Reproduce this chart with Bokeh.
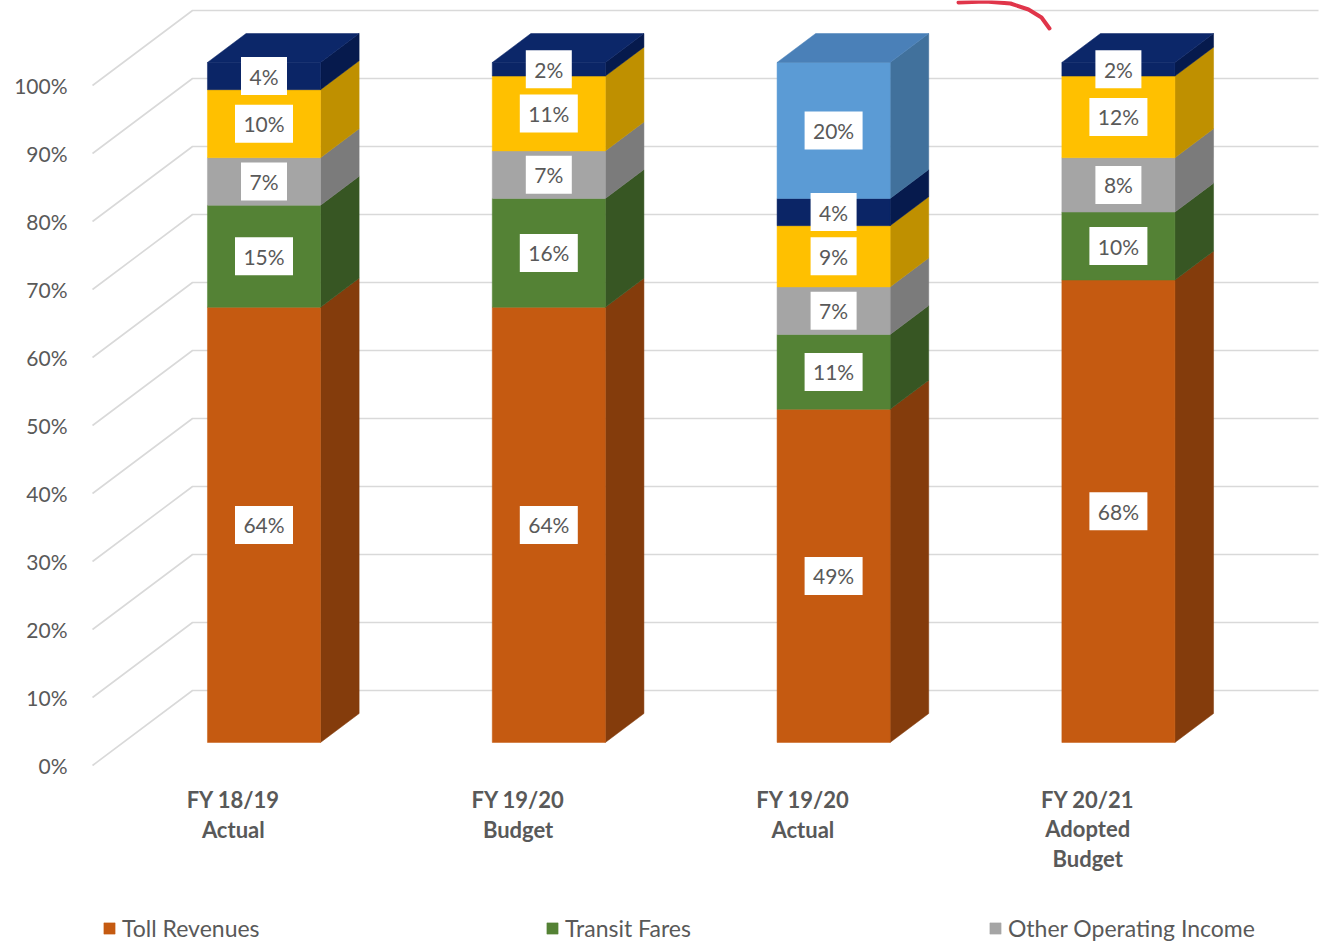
from bokeh.plotting import figure
from bokeh.models import Range1d, FixedTicker, PrintfTickFormatter, Legend, LegendItem
from bokeh.core.properties import value
from bokeh.embed import file_html
from bokeh.resources import INLINE

# ---------------- data ----------------
categories = ["FY 18/19\nActual", "FY 19/20\nBudget", "FY 19/20\nActual", "FY 20/21\nAdopted\nBudget"]
series_names = ["Toll Revenues", "Transit Fares", "Other Operating Income",
                "Other Revenue", "Investment Income", "Federal Relief Funds"]
toll_revenues = [64, 64, 49, 68]
transit_fares = [15, 16, 11, 10]
other_operating = [7, 7, 7, 8]
other_revenue = [10, 11, 9, 12]
investment_income = [4, 2, 4, 2]
federal_relief = [0, 0, 20, 0]
y_ticks = [0, 10, 20, 30, 40, 50, 60, 70, 80, 90, 100]

series_values = [toll_revenues, transit_fares, other_operating,
                 other_revenue, investment_income, federal_relief]

front_colors = ["#C55A11", "#548235", "#A5A5A5", "#FFC000", "#0B2566", "#5B9BD5"]
side_colors = ["#843C0C", "#375623", "#7B7B7B", "#BF9000", "#061A4D", "#41719C"]
top_colors = ["#A84C0E", "#46702C", "#8F8F8F", "#D9A300", "#0C2769", "#4A80B8"]

# ---------------- layout / projection ----------------
W, H = 1321, 942
FRAME_LEFT = 75
PX_PER_CAT = 284.8
CAT0_PX = 232.8
PX_PER_PCT = 6.8
ZERO_PX = 765.0

DEPTH_X = 100.0 / PX_PER_CAT      # full depth shift in category units
DEPTH_Y = 75.0 / PX_PER_PCT       # full depth shift in percent units
D_FRONT, D_BACK = 0.307, 0.693     # bar depth inside the box
HALF_W = 0.1985                    # half bar width (category units)
WALL_X = (92 - CAT0_PX) / PX_PER_CAT
WALL_RIGHT = (1318 - CAT0_PX) / PX_PER_CAT


def px_to_data(px, py):
    return (px - CAT0_PX) / PX_PER_CAT, (ZERO_PX - py) / PX_PER_PCT


def proj(x, v, d):
    return x + d * DEPTH_X, v + d * DEPTH_Y


p = figure(width=W, height=H,
           x_range=Range1d((FRAME_LEFT - CAT0_PX) / PX_PER_CAT, (W - CAT0_PX) / PX_PER_CAT),
           y_range=Range1d((ZERO_PX - H) / PX_PER_PCT, ZERO_PX / PX_PER_PCT),
           output_backend="svg", toolbar_location=None,
           x_axis_location=None, y_axis_location="left",
           min_border_left=FRAME_LEFT, min_border_right=0, min_border_top=0, min_border_bottom=0)
p.outline_line_color = None
p.background_fill_color = "white"
p.border_fill_color = "white"
p.grid.visible = False

ax = p.yaxis[0]
ax.ticker = FixedTicker(ticks=y_ticks)
ax.formatter = PrintfTickFormatter(format="%d%%")
ax.axis_line_color = None
ax.major_tick_line_color = None
ax.minor_tick_line_color = None
ax.major_tick_out = 0
ax.major_label_standoff = 8
ax.major_label_text_font = "Lato"
ax.major_label_text_font_size = "21px"
ax.major_label_text_color = "#595959"

# ---------------- 3D gridlines (side wall + back wall) ----------------
gx, gy = [], []
for t in y_ticks:
    x0, y0 = proj(WALL_X, t, 0)
    x1, y1 = proj(WALL_X, t, 1)
    gx.append([x0, x1, WALL_RIGHT])
    gy.append([y0, y1, y1])
p.multi_line(gx, gy, line_color="#D9D9D9", line_width=1.6)

# ---------------- bars ----------------
front_renderers = []
label_x, label_y, label_t, label_w = [], [], [], []
n_cat = len(categories)
bottoms = [0.0] * n_cat
tops_idx = [max(i for i, s in enumerate(series_values) if s[c] > 0) for c in range(n_cat)]

for s_idx, vals in enumerate(series_values):
    fxs, fys, sxs, sys_, txs, tys = [], [], [], [], [], []
    for c in range(n_cat):
        v = vals[c]
        if v <= 0:
            continue
        v0, v1 = bottoms[c], bottoms[c] + v
        xl, xr = c - HALF_W, c + HALF_W
        # front face
        a = proj(xl, v0, D_FRONT); b = proj(xr, v0, D_FRONT)
        cc = proj(xr, v1, D_FRONT); d = proj(xl, v1, D_FRONT)
        fxs.append([a[0], b[0], cc[0], d[0]]); fys.append([a[1], b[1], cc[1], d[1]])
        # right side face
        e = proj(xr, v0, D_BACK); f = proj(xr, v1, D_BACK)
        sxs.append([b[0], e[0], f[0], cc[0]]); sys_.append([b[1], e[1], f[1], cc[1]])
        # top face
        if s_idx == tops_idx[c]:
            g = proj(xl, v1, D_BACK)
            txs.append([d[0], cc[0], f[0], g[0]]); tys.append([d[1], cc[1], f[1], g[1]])
        # label
        lx, ly = proj(c, (v0 + v1) / 2.0, D_FRONT)
        label_x.append(lx); label_y.append(ly)
        txt = f"{v}%"
        label_t.append(txt); label_w.append(22 + 12 * len(txt))
        bottoms[c] = v1
    if sxs:
        p.patches(sxs, sys_, fill_color=side_colors[s_idx], line_color=side_colors[s_idx], line_width=0.5)
    r = p.patches(fxs, fys, fill_color=front_colors[s_idx], line_color=front_colors[s_idx], line_width=0.5)
    front_renderers.append(r)
    if txs:
        p.patches(txs, tys, fill_color=top_colors[s_idx], line_color=top_colors[s_idx], line_width=0.5)

# data labels
p.rect(label_x, label_y, width=label_w, height=38, width_units="screen", height_units="screen",
       fill_color="white", line_color=None)
p.text(label_x, label_y, text=label_t, text_align="center", text_baseline="middle",
       text_font=value("Lato"), text_font_size="21px", text_color="#595959")

# category labels (front plane)
LINE_PX = 29.5
cat_x, cat_y = [], []
for c, lab in enumerate(categories):
    n_lines = lab.count("\n") + 1
    _, yy = px_to_data(0, 799 + (n_lines - 1) * LINE_PX / 2.0)
    cat_x.append(c); cat_y.append(yy)
p.text(cat_x, cat_y, text=categories, text_align="center", text_baseline="middle",
       text_font=value("Lato"), text_font_size="22px", text_font_style="bold",
       text_color="#595959", text_line_height=1.1)

# hand-drawn red annotation stroke at the top
annotation_px = [(958, 2), (985, 1), (1010, 3), (1028, 9), (1041, 17), (1049, 28)]
ann = [px_to_data(*pt) for pt in annotation_px]
p.line([a[0] for a in ann], [a[1] for a in ann], line_color="#E0354A", line_width=4, line_cap="round")

# legend (first row, at the bottom edge like the source)
legend = Legend(items=[LegendItem(label=series_names[i], renderers=[front_renderers[i]]) for i in range(3)],
                orientation="horizontal", location=(27, 0),
                glyph_width=14, glyph_height=14, label_standoff=6, label_width=423,
                label_height=22, spacing=0, padding=0, margin=0,
                border_line_color=None, background_fill_alpha=0,
                label_text_font="Lato", label_text_font_size="23px", label_text_color="#595959")
p.add_layout(legend)

open("out.html", "w").write(file_html(p, INLINE))
